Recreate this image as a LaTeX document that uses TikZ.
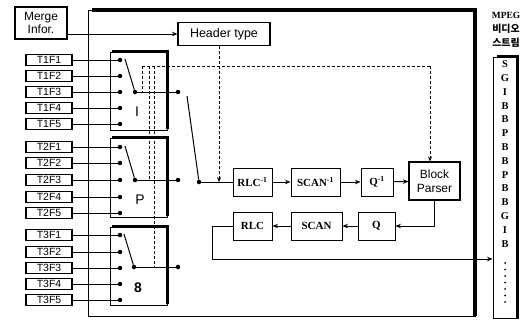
\documentclass[tikz,border=0pt]{standalone}
\usepackage{fontspec}
\setmainfont{Liberation Serif}
\setsansfont{Liberation Sans}
\newfontfamily\krfont{Noto Sans CJK KR}
\usetikzlibrary{arrows.meta}
\begin{document}
\begin{tikzpicture}[x=1bp,y=-1bp,
  box/.style={draw, line width=1.1bp, inner sep=0, align=center, font=\sffamily\fontsize{12}{13.5}\selectfont},
  tbox/.style={draw, line width=1.3bp, minimum width=46bp, minimum height=11.5bp, inner sep=0, font=\sffamily\fontsize{10.5}{10.5}\selectfont},
  blk/.style={draw, line width=1bp, minimum height=28bp, inner sep=0, font=\rmfamily\bfseries\fontsize{11}{12}\selectfont},
  swbox/.style={draw, line width=1bp, minimum width=57bp, inner sep=0},
  dot/.style={circle, fill, inner sep=0, minimum size=4.5bp},
  arr/.style={-{Stealth[length=5.5bp,width=4.5bp]}, line width=1bp},
  dsh/.style={dash pattern=on 3bp off 2bp, line width=0.7bp},
  ln/.style={line width=1bp},
  heavy/.style={line width=3.2bp},
  lett/.style={font=\rmfamily\bfseries\fontsize{10.5}{10.5}\selectfont, inner sep=0}
]
\useasboundingbox (0,0) rectangle (525,322);

% outer frame
\draw[ln] (88,10) rectangle (475,316);
\draw[heavy] (92,10) -- (475,10) -- (475,316);

% merge and header
\node[box, minimum width=52bp, minimum height=32bp] (merge) at (41,23) {Merge\\Infor.};
\node[box, minimum width=92bp, minimum height=23bp, font=\sffamily\fontsize{12.5}{13}\selectfont] (header) at (224,34) {Header type};
\draw[arr] (merge.east |- header.west) -- (header.west);

% switch boxes
\node[swbox, minimum height=78bp] (ibox) at (138.5,91) {};
\node[swbox, minimum height=79bp] (pbox) at (138.5,177.5) {};
\node[swbox, minimum height=78bp] (bbox) at (138.5,266) {};
\foreach \b in {ibox,pbox,bbox}{
  \draw[heavy] ([xshift=2bp]\b.north west) -- (\b.north east) -- ([yshift=2bp]\b.south east);
}
\node[font=\sffamily\fontsize{14}{14}\selectfont] (il) at (137,112) {I};
\node[font=\sffamily\fontsize{14}{14}\selectfont] (pl) at (140,200) {P};
\node[font=\sffamily\bfseries\fontsize{14}{14}\selectfont] (bl) at (138,288) {8};

% input boxes
\foreach \g/\ys in {1/{60,76,92,108,124},2/{147,163,180,197,213},3/{235,252,268,284,300}}{
  \foreach \y [count=\i] in \ys {
    \node[tbox] (t\g\i) at (49,\y) {T\g F\i};
    \node[dot] (d\g\i) at (120,\y) {};
    \draw[ln] (t\g\i.east) -- (d\g\i);
  }
}

% switches in boxes
\node[dot] (pi) at (135,92) {};
\node[dot] (pp) at (135,180) {};
\node[dot] (pb) at (134,267) {};
\node[dot] (oi) at (178,92) {};
\node[dot] (op) at (178,180) {};
\node[dot] (ob) at (178,267) {};
\draw[ln] (125,59) -- (pi);
\draw[ln] (125,146) -- (pp);
\draw[ln] (124,234) -- (pb);
\draw[ln] (pi) -- (oi);
\draw[ln] (pp) -- (op);
\draw[ln] (pb) -- (ob);

% main switch
\node[dot] (pm) at (199,182) {};
\draw[ln] (187,96) -- (pm);

% processing blocks
\node[blk, minimum width=39bp] (rlci) at (252.5,182) {RLC\textsuperscript{-1}};
\node[blk, minimum width=49bp] (scani) at (315.5,182) {SCAN\textsuperscript{-1}};
\node[blk, minimum width=32bp] (qi) at (377,182) {Q\textsuperscript{-1}};
\node[box, minimum width=51bp, minimum height=38bp] (bp) at (434.5,181) {Block\\Parser};
\node[blk, minimum width=39bp] (rlc) at (252.5,226) {RLC};
\node[blk, minimum width=51bp] (scan) at (316.5,226) {SCAN};
\node[blk, minimum width=37bp] (q) at (376.5,226) {Q};

\draw[ln] (pm) -- (rlci.west);
\draw[arr] (rlci) -- (scani);
\draw[arr] (scani) -- (qi);
\draw[arr] (qi) -- (bp);
\draw[arr] (bp.south) |- (q.east);
\draw[arr] (q) -- (scan);
\draw[arr] (scan) -- (rlc);

% stream
\node[draw, line width=1bp, minimum width=24bp, minimum height=261bp, inner sep=0] (stream) at (505,187.5) {};
\draw[heavy] ([xshift=4bp]stream.north west) -- (stream.north east) -- (stream.south east);
\coordinate (lp) at (212,259);
\draw[arr] (rlc.west) -| (lp) -- (stream.west |- lp);
\foreach \l [count=\i] in {S,G,I,B,B,P,B,B,P,B,B,G,I,B}{
  \node[lett] at (505,50.5+\i*13.8) {\l};
}
\foreach \k in {0,...,6}{ \fill (505,263+\k*6.5) circle (1bp); }
\node[lett, font=\rmfamily\bfseries\fontsize{9.5}{9.5}\selectfont] (mpeg) at (506,15) {MPEG};
\node[inner sep=0, font=\krfont\bfseries\fontsize{10}{10}\selectfont] (kr1) at (506,29) {비디오};
\node[inner sep=0, font=\krfont\bfseries\fontsize{10}{10}\selectfont] (kr2) at (506,43) {스트림};

% control (dashed) lines
\coordinate (c0) at (142,66);
\coordinate (c1) at (149,66);
\coordinate (c2) at (154,66);
\coordinate (c3) at (430,66);
\draw[dsh] (c0) -- (c3);
\draw[dsh, -{Stealth[length=5bp,width=4bp]}] (c3) -- (c3 |- bp.north);
\draw[dsh] (c0) -- (c0 |- pi);
\draw[dsh] (c1) -- (c1 |- pp);
\draw[dsh] (c2) -- (c2 |- pb);
\draw[dsh, -{Stealth[length=5bp,width=4bp]}] (header.south -| 219,0) -- (219,182);
\end{tikzpicture}
\end{document}
